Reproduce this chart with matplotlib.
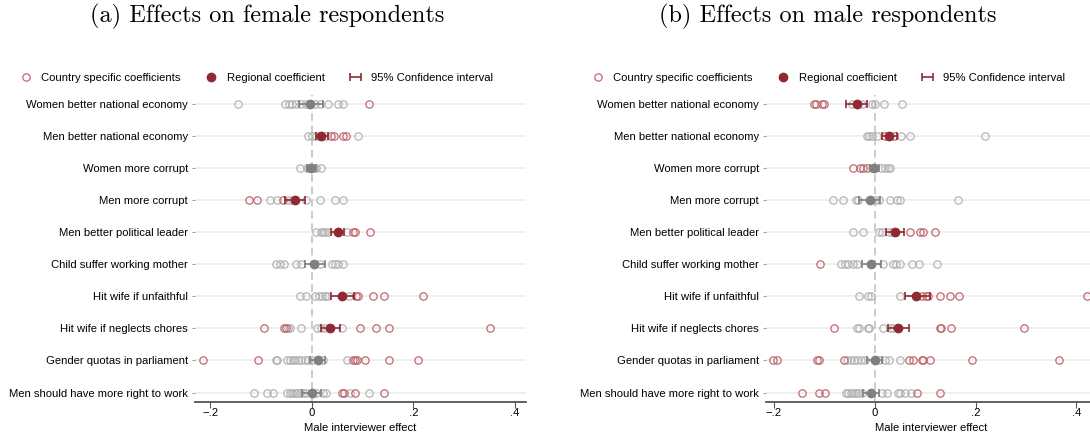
import numpy as np
import matplotlib
matplotlib.use('Agg')
import matplotlib.pyplot as plt
from matplotlib.lines import Line2D

plt.rcParams.update({
    'font.family': ['Liberation Sans', 'DejaVu Sans'],
    'font.size': 8.1,
    'axes.unicode_minus': True,
})

items = [
    "Women better national economy",
    "Men better national economy",
    "Women more corrupt",
    "Men more corrupt",
    "Men better political leader",
    "Child suffer working mother",
    "Hit wife if unfaithful",
    "Hit wife if neglects chores",
    "Gender quotas in parliament",
    "Men should have more right to work",
]

# --- female respondents ---
fem_country_sig = [
    [0.112],
    [0.038, 0.043, 0.061, 0.067],
    [],
    [-0.124, -0.109, -0.058],
    [0.080, 0.084, 0.114],
    [],
    [0.087, 0.090, 0.121, 0.142, 0.219],
    [-0.094, -0.055, -0.052, 0.095, 0.127, 0.151, 0.350],
    [-0.215, -0.107, 0.080, 0.085, 0.089, 0.104, 0.151, 0.209],
    [0.059, 0.064, 0.084, 0.142],
]
fem_country_ns = [
    [-0.145, -0.054, -0.046, -0.039, -0.032, -0.021, -0.011, 0.005, 0.015, 0.031, 0.051, 0.061],
    [-0.007, 0.0, 0.008, 0.015, 0.025, 0.091],
    [-0.024, -0.009, -0.006, -0.003, 0.003, 0.007, 0.017],
    [-0.082, -0.068, -0.048, -0.040, -0.011, 0.015, 0.046, 0.061],
    [0.007, 0.017, 0.022, 0.026, 0.031, 0.069],
    [-0.070, -0.063, -0.055, -0.031, -0.021, 0.015, 0.039, 0.046, 0.052, 0.061],
    [-0.024, -0.011, 0.005, 0.014, 0.020, 0.025, 0.030, 0.072],
    [-0.047, -0.044, -0.022, 0.010, 0.018, 0.026, 0.059],
    [-0.070, -0.068, -0.050, -0.044, -0.037, -0.033, -0.027, -0.021, -0.013, -0.008, 0.0, 0.022, 0.069],
    [-0.114, -0.088, -0.076, -0.050, -0.044, -0.039, -0.034, -0.029, -0.024, -0.018, -0.011,
     0.008, 0.022, 0.028, 0.075, 0.113],
]
fem_coef = [-0.003, 0.018, -0.001, -0.033, 0.051, 0.004, 0.059, 0.036, 0.012, 0.0]
fem_lo = [-0.025, 0.007, -0.009, -0.054, 0.037, -0.014, 0.037, 0.017, -0.003, -0.019]
fem_hi = [0.022, 0.031, 0.007, -0.013, 0.064, 0.025, 0.082, 0.055, 0.026, 0.017]

# --- male respondents ---
male_country_sig = [
    [-0.120, -0.115, -0.104, -0.100],
    [0.021, 0.038],
    [-0.043, -0.028, -0.023, -0.015],
    [],
    [0.071, 0.091, 0.096, 0.119],
    [-0.108],
    [0.094, 0.101, 0.105, 0.130, 0.149, 0.168, 0.420],
    [-0.081, 0.130, 0.132, 0.152, 0.296],
    [-0.202, -0.194, -0.113, -0.109, -0.060, 0.068, 0.076, 0.094, 0.097, 0.109, 0.193, 0.366],
    [-0.144, -0.109, -0.098, 0.085, 0.129],
]
male_country_ns = [
    [-0.045, -0.025, -0.005, 0.001, 0.018, 0.054],
    [-0.015, -0.011, -0.005, 0.005, 0.052, 0.071, 0.219],
    [-0.005, 0.013, 0.021, 0.026, 0.031],
    [-0.083, -0.063, -0.036, -0.033, 0.001, 0.008, 0.031, 0.044, 0.050, 0.166],
    [-0.043, -0.023, 0.008, 0.015, 0.028, 0.034],
    [-0.066, -0.058, -0.052, -0.042, -0.035, 0.017, 0.036, 0.043, 0.051, 0.075, 0.088, 0.124],
    [-0.030, -0.013, -0.007, 0.051],
    [-0.035, -0.030, -0.013, -0.010, 0.016, 0.031, 0.036],
    [-0.054, -0.047, -0.040, -0.034, -0.027, -0.019, 0.008, 0.021, 0.028, 0.051],
    [-0.056, -0.052, -0.047, -0.042, -0.036, -0.032, -0.025, 0.015, 0.025, 0.046, 0.050, 0.061, 0.072],
]
male_coef = [-0.035, 0.029, -0.001, -0.009, 0.041, -0.007, 0.083, 0.047, 0.0, -0.007]
male_lo = [-0.056, 0.015, -0.009, -0.030, 0.023, -0.025, 0.060, 0.026, -0.015, -0.023]
male_hi = [-0.015, 0.044, 0.008, 0.011, 0.058, 0.013, 0.109, 0.068, 0.015, 0.008]

xticks = [-0.2, 0, 0.2, 0.4]

RED = '#8f2a33'
RED_LIGHT = '#bf6a70'
GREY_LIGHT = '#b4b4b4'
GREY = '#808080'


def tick_label(v):
    if v == 0:
        return "0"
    s = f"{abs(v):.1f}".lstrip("0")
    return ("\u2212" if v < 0 else "") + s


def draw_panel(ax, sig, ns, coef, lo, hi, xlim):
    ypos = np.arange(1, len(items) + 1)
    for y in ypos:
        ax.axhline(y, color='#ececec', lw=1.2, zorder=0)
    ax.axvline(0, color='#bdbdbd', lw=1.1, ls=(0, (5, 3)), zorder=1)

    # country level estimates (hollow)
    for y, vals in zip(ypos, ns):
        ax.plot(vals, [y] * len(vals), 'o', ms=5.3, mfc='none', mec=GREY_LIGHT,
                mew=0.9, zorder=2)
    for y, vals in zip(ypos, sig):
        ax.plot(vals, [y] * len(vals), 'o', ms=5.3, mfc='none', mec=RED_LIGHT,
                mew=0.9, zorder=3)

    # pooled estimate + 95% CI, red when the interval excludes zero
    for y, c, l, h in zip(ypos, coef, lo, hi):
        col = RED if (l > 0 or h < 0) else GREY
        ax.errorbar([c], [y], xerr=[[c - l], [h - c]], fmt='none', ecolor=col,
                    elinewidth=1.2, capsize=3.2, capthick=1.2, zorder=4)
        ax.plot([c], [y], 'o', ms=6, color=col, zorder=5)

    ax.set_xlim(*xlim)
    ax.set_ylim(10.28, 0.73)
    ax.set_yticks(ypos)
    ax.set_yticklabels(items)
    ax.set_xticks(xticks)
    ax.set_xticklabels([tick_label(v) for v in xticks])
    ax.set_xlabel("Male interviewer effect", labelpad=3)

    for side in ('top', 'right', 'left'):
        ax.spines[side].set_visible(False)
    ax.spines['bottom'].set_color('#555555')
    ax.spines['bottom'].set_linewidth(1.3)
    ax.tick_params(axis='y', length=2, width=0.6, color='#888888', pad=3)
    ax.tick_params(axis='x', length=4, width=0.8, color='#555555', pad=1)


fig = plt.figure(figsize=(10.9, 4.38), dpi=100)
W, H = 1090, 438
ax1 = fig.add_axes([195 / W, (H - 401.5) / H, 331 / W, 306.5 / H])
ax2 = fig.add_axes([766 / W, (H - 401.5) / H, 331 / W, 306.5 / H])

draw_panel(ax1, fem_country_sig, fem_country_ns, fem_coef, fem_lo, fem_hi, (-0.2305, 0.4217))
draw_panel(ax2, male_country_sig, male_country_ns, male_coef, male_lo, male_hi, (-0.2149, 0.4406))

fig.text(267 / W, 1 - 16 / H, "(a) Effects on female respondents", ha='center', va='center',
         fontfamily='cmr10', fontsize=17.5)
fig.text(828 / W, 1 - 16 / H, "(b) Effects on male respondents", ha='center', va='center',
         fontfamily='cmr10', fontsize=17.5)

# legend handles
h_country = Line2D([], [], ls='none', marker='o', ms=5.3, mfc='none', mec=RED_LIGHT, mew=0.9)
h_region = Line2D([], [], ls='none', marker='o', ms=6, color=RED)
for ax, xc in ((ax1, 255), (ax2, 827)):
    h_ci = ax.errorbar([np.nan], [np.nan], xerr=[[0.01], [0.01]], fmt='none', ecolor=RED,
                       elinewidth=1.2, capsize=3.2, capthick=1.2)
    fig.legend([h_country, h_region, h_ci],
               ["Country specific coefficients", "Regional coefficient", "95% Confidence interval"],
               loc='center', bbox_to_anchor=(xc / W, 1 - 78 / H), ncol=3, frameon=False,
               handlelength=1.5, handletextpad=0.6, columnspacing=2.0, fontsize=8.1)

fig.savefig("out.png", dpi=100)
